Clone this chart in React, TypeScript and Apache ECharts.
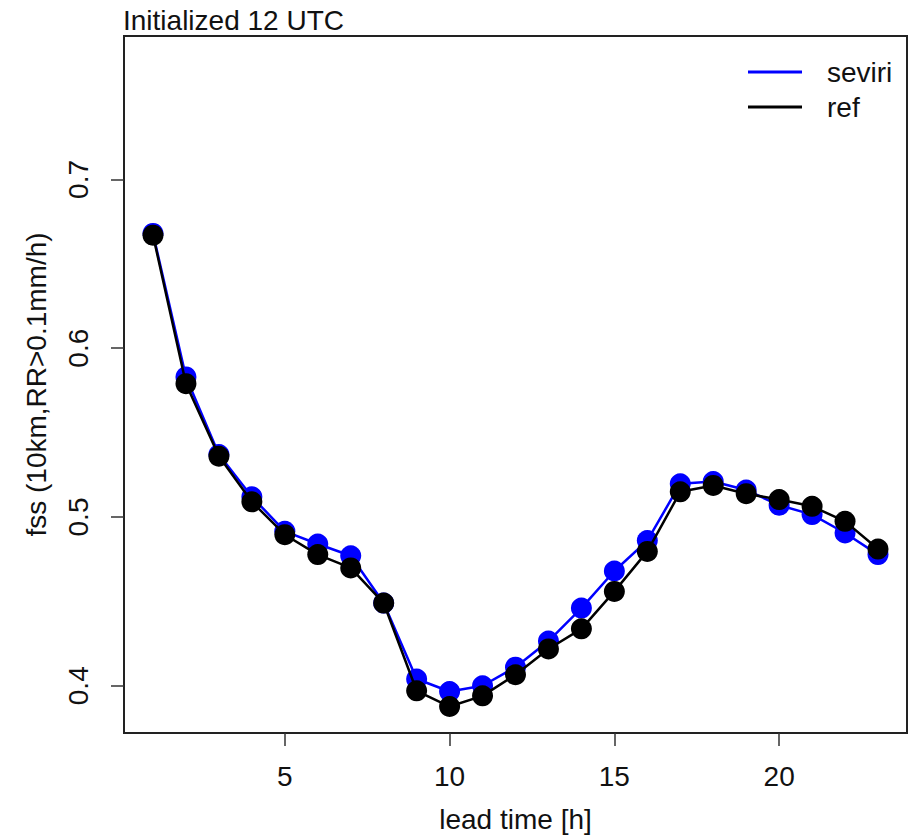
import React, { useEffect, useRef } from "react";
import * as echarts from "echarts";

const leadTime = [1, 2, 3, 4, 5, 6, 7, 8, 9, 10, 11, 12, 13, 14, 15, 16, 17, 18, 19, 20, 21, 22, 23];
const seviri = [0.668, 0.583, 0.537, 0.512, 0.4915, 0.484, 0.477, 0.449, 0.404, 0.3966, 0.4, 0.411, 0.4265, 0.446, 0.468, 0.486, 0.5197, 0.521, 0.516, 0.507, 0.5014, 0.4905, 0.4777];
const ref = [0.667, 0.579, 0.536, 0.509, 0.4895, 0.4777, 0.4698, 0.449, 0.397, 0.3877, 0.394, 0.4065, 0.4218, 0.4337, 0.4559, 0.4796, 0.5149, 0.5187, 0.5138, 0.5103, 0.5063, 0.4974, 0.481];
const xTicks = [5, 10, 15, 20];
const yTicks = [0.4, 0.5, 0.6, 0.7];

const FONT = "'Liberation Sans', Arial, sans-serif";
const FS = 28;

export default function App() {
  const ref1 = useRef<HTMLDivElement>(null);
  useEffect(() => {
    const chart = echarts.init(ref1.current!, null, { renderer: "svg" });
    const pair = (ys: number[]) => leadTime.map((x, i) => [x, ys[i]]);
    chart.setOption({
      animation: false,
      backgroundColor: "#fff",
      textStyle: { fontFamily: FONT },
      title: {
        text: "Initialized 12 UTC",
        left: 123,
        top: 6,
        padding: 0,
        textStyle: { fontFamily: FONT, fontSize: FS, fontWeight: "normal", color: "#111" },
      },
      legend: {
        orient: "vertical",
        left: 748,
        top: 58,
        padding: 0,
        itemWidth: 54,
        itemHeight: 3,
        itemGap: 7,
        icon: "rect",
        textStyle: { fontFamily: FONT, fontSize: FS, color: "#111", padding: [0, 0, 0, 20] },
        data: ["seviri", "ref"],
      },
      grid: {
        left: 124,
        right: 6,
        top: 36,
        bottom: 102,
        show: true,
        borderColor: "#222",
        borderWidth: 2,
        containLabel: false,
        outerBoundsMode: "none",
      },
      xAxis: {
        type: "value",
        min: 0.12,
        max: 23.88,
        name: "lead time [h]",
        nameLocation: "middle",
        nameGap: 72,
        nameTextStyle: { fontFamily: FONT, fontSize: FS, color: "#111" },
        axisLine: { show: true, lineStyle: { color: "#222", width: 2 } },
        axisTick: { show: true, customValues: xTicks, length: 13, inside: false, lineStyle: { color: "#333", width: 1.5 } },
        axisLabel: { customValues: xTicks, fontFamily: FONT, fontSize: FS, color: "#111", margin: 29 },
        splitLine: { show: false },
      },
      yAxis: {
        type: "value",
        min: 0.372,
        max: 0.785,
        name: "fss (10km,RR>0.1mm/h)",
        nameLocation: "middle",
        nameGap: 74,
        nameRotate: 90,
        nameTextStyle: { fontFamily: FONT, fontSize: FS, color: "#111" },
        axisLine: { show: true, lineStyle: { color: "#222", width: 2 } },
        axisTick: { show: true, customValues: yTicks, length: 13, lineStyle: { color: "#333", width: 1.5 } },
        axisLabel: {
          customValues: yTicks,
          rotate: 90,
          fontFamily: FONT,
          fontSize: FS,
          color: "#111",
          margin: 32,
          formatter: (v: number) => v.toFixed(1),
        },
        splitLine: { show: false },
      },
      series: [
        {
          name: "seviri",
          type: "line",
          data: pair(seviri),
          color: "#0000FF",
          symbol: "circle",
          symbolSize: 21,
          lineStyle: { color: "#0000FF", width: 2.5 },
          itemStyle: { color: "#0000FF" },
          z: 2,
        },
        {
          name: "ref",
          type: "line",
          data: pair(ref),
          color: "#000000",
          symbol: "circle",
          symbolSize: 21,
          lineStyle: { color: "#000000", width: 2.5 },
          itemStyle: { color: "#000000" },
          z: 3,
        },
      ],
    });
    return () => chart.dispose();
  }, []);
  return (
    <div
      ref={ref1}
      style={{ position: "fixed", left: 0, top: 0, width: 913, height: 835, background: "#fff" }}
    />
  );
}
